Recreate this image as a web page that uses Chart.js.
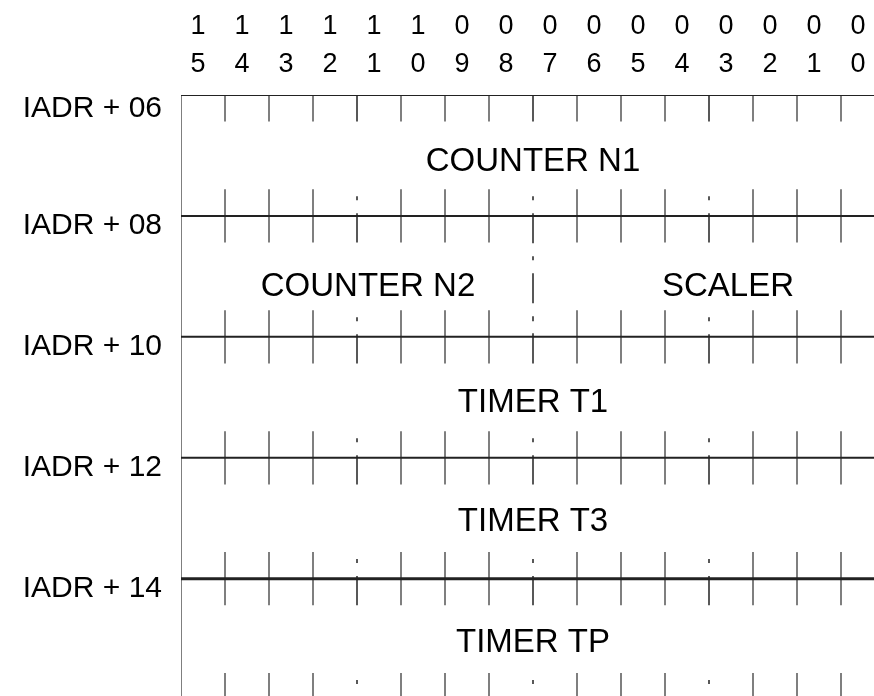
<!DOCTYPE html>
<html>
<head>
<meta charset="utf-8">
<script src="https://cdn.jsdelivr.net/npm/chart.js@4"></script>
<style>
  html, body { margin: 0; padding: 0; background: #fff; }
  #wrap { width: 874px; height: 696px; position: relative; }
</style>
</head>
<body>
<div id="wrap"><canvas id="myChart"></canvas></div>
<script>
// bit numbers across the top, most significant first
var bitLabels = ["15", "14", "13", "12", "11", "10", "09", "08", "07", "06", "05", "04", "03", "02", "01", "00"];
// register addresses down the left side
var rowLabels = ["IADR + 06", "IADR + 08", "IADR + 10", "IADR + 12", "IADR + 14"];
// fields: name, row, highest bit, lowest bit
var fieldNames = ["COUNTER N1", "COUNTER N2", "SCALER", "TIMER T1", "TIMER T3", "TIMER TP"];
var fieldRows = [0, 1, 1, 2, 3, 4];
var fieldHigh = [15, 15, 7, 15, 15, 15];
var fieldLow = [0, 8, 0, 0, 0, 0];
// nibble boundaries get the dash-dot marks
var nibbleBounds = [12, 8, 4];

var TICK = 0.22;
var lineRows = [0, 1, 2, 3, 4, 5];

var rowLines = [];
rowLabels.forEach(function (l, i) {
  rowLines.push({x: 16, y: i}, {x: 0, y: i}, {x: null, y: null});
});

var bitTicks = [], nibTicks = [];
for (var k = 1; k < 16; k++) {
  lineRows.forEach(function (r) {
    var seg = [{x: k, y: r - TICK}, {x: k, y: r + TICK}, {x: null, y: null}];
    if (nibbleBounds.indexOf(k) >= 0) nibTicks.push.apply(nibTicks, seg);
    else bitTicks.push.apply(bitTicks, seg);
  });
}
// separators between fields sharing a row
fieldNames.forEach(function (n, i) {
  if (fieldLow[i] > 0) {
    var r = fieldRows[i];
    nibTicks.push({x: fieldLow[i], y: r - TICK}, {x: fieldLow[i], y: r + 1 + TICK}, {x: null, y: null});
  }
});

// small hand nudges (px) so the names sit where the drawing has them
var nudgeX = {"COUNTER N2": 11, "SCALER": 19};
var nudgeY = {"COUNTER N1": 2, "COUNTER N2": 7, "SCALER": 7, "TIMER T1": 2};

var fieldText = {
  id: 'fieldText',
  afterDatasetsDraw: function (chart) {
    var ctx = chart.ctx, x = chart.scales.x, y = chart.scales.y;
    ctx.save();
    ctx.fillStyle = '#000';
    ctx.font = '33px "Liberation Sans", Arial, sans-serif';
    ctx.textAlign = 'center';
    ctx.textBaseline = 'middle';
    fieldNames.forEach(function (n, i) {
      var cx = x.getPixelForValue((fieldHigh[i] + 1 + fieldLow[i]) / 2) + (nudgeX[n] || 0);
      var cy = y.getPixelForValue(fieldRows[i] + 0.5) + 4 + (nudgeY[n] || 0);
      ctx.fillText(n, cx, cy);
    });
    ctx.restore();
  }
};

var base = {type: 'line', pointRadius: 0, fill: false, spanGaps: false, tension: 0};

var ctx = document.getElementById("myChart").getContext('2d');
var myChart = new Chart(ctx, {
  type: 'line',
  data: {
    datasets: [
      Object.assign({}, base, {data: rowLines, borderColor: '#222', borderWidth: 2,
        segment: {borderWidth: function (c) { return Math.floor(c.p0DataIndex / 3) === 4 ? 3 : 2; }}}),
      Object.assign({}, base, {data: [{x: 16, y: 0}, {x: 16, y: 5}], borderColor: '#555', borderWidth: 1.5}),
      Object.assign({}, base, {data: bitTicks, borderColor: '#555', borderWidth: 1.5}),
      Object.assign({}, base, {data: nibTicks, borderColor: '#222', borderWidth: 1.5,
        borderDash: [30, 13, 4, 13], borderDashOffset: 36})
    ]
  },
  options: {
    responsive: true,
    maintainAspectRatio: false,
    animation: false,
    layout: {padding: 0},
    plugins: {legend: {display: false}, tooltip: {enabled: false}},
    scales: {
      x: {
        type: 'linear',
        position: 'top',
        reverse: true,
        min: 0.25,
        max: 16,
        grid: {display: false},
        border: {display: false},
        afterBuildTicks: function (axis) {
          axis.ticks = bitLabels.map(function (l, i) { return {value: 15 - i + 0.614}; });
        },
        afterFit: function (axis) {
          axis.height = 95;
          axis.paddingLeft = 0; axis.paddingRight = 0;
        },
        ticks: {
          autoSkip: false,
          maxRotation: 0,
          padding: 3,
          color: '#000',
          font: {family: '"Liberation Sans", Arial, sans-serif', size: 27, lineHeight: 1.42},
          callback: function (v, i) { return bitLabels[i].split(''); }
        }
      },
      y: {
        type: 'linear',
        reverse: true,
        min: 0,
        max: 4.97,
        grid: {display: false},
        border: {display: false},
        afterBuildTicks: function (axis) {
          axis.ticks = rowLabels.map(function (l, i) { return {value: i + (i === 0 ? 0.11 : 0.08)}; });
        },
        afterFit: function (axis) {
          axis.width = 181;
          axis.paddingTop = 0; axis.paddingBottom = 0;
        },
        ticks: {
          padding: 11,
          color: '#000',
          font: {family: '"Liberation Sans", Arial, sans-serif', size: 30},
          callback: function (v, i) { return rowLabels[i]; }
        }
      }
    }
  },
  plugins: [fieldText]
});
</script>
</body>
</html>
